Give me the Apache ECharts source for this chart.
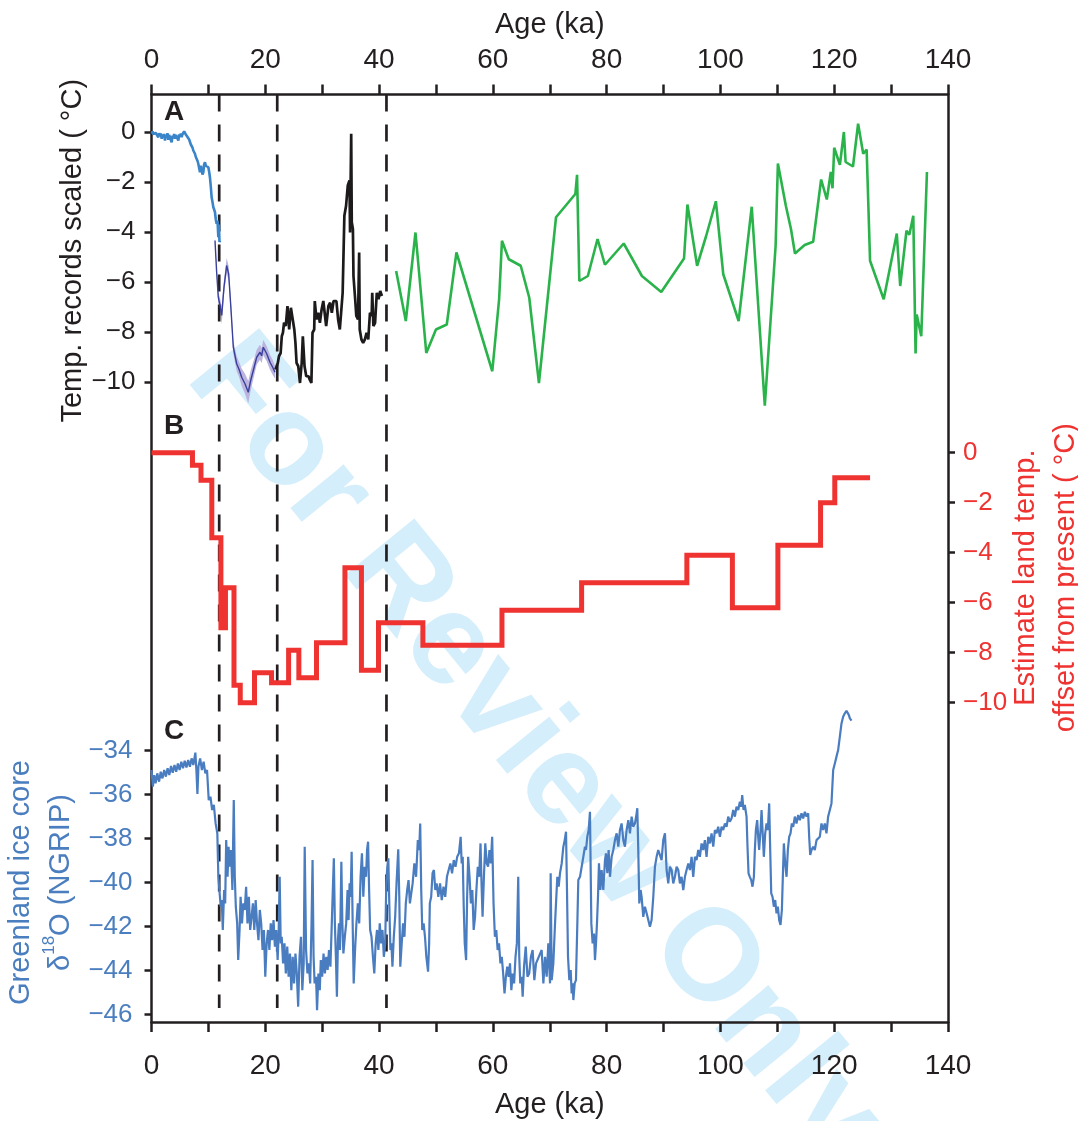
<!DOCTYPE html>
<html>
<head>
<meta charset="utf-8">
<title>Temperature records, land temperature estimate and NGRIP d18O</title>
<script src="https://cdn.jsdelivr.net/npm/echarts@6.0.0/dist/echarts.min.js"></script>
<style>
  html, body { margin: 0; padding: 0; background: #fff; }
  #chart { width: 1078px; height: 1121px; }
</style>
</head>
<body>
<div id="chart"></div>
<script>
// ---- axes ----
const ageTicks = [0, 10, 20, 30, 40, 50, 60, 70, 80, 90, 100, 110, 120, 130, 140];
const ageLabels = [0, 20, 40, 60, 80, 100, 120, 140];
const tempTicks = [0, -2, -4, -6, -8, -10];
const landTicks = [0, -2, -4, -6, -8, -10];
const d18OTicks = [-34, -36, -38, -40, -42, -44, -46];
const boundaryAges = [11.9, 22.1, 41.3];

// ---- panel A: scaled temperature records [age ka, degC] ----
const holoceneBlue = [
  [0.03,-0.07],[0.18,0.02],[0.32,-0.08],[0.47,-0.02],[0.62,-0.14],[0.76,-0.04],[0.91,-0.12],[1.05,0.0],
  [1.2,-0.21],[1.35,-0.05],[1.49,-0.15],[1.64,-0.06],[1.79,-0.27],[1.93,-0.1],[2.08,-0.2],[2.23,-0.08],
  [2.37,-0.34],[2.52,-0.12],[2.67,-0.22],[2.81,-0.05],[2.96,-0.31],[3.1,-0.12],[3.25,-0.18],[3.4,-0.06],
  [3.54,-0.41],[3.69,-0.15],[3.84,-0.24],[3.98,-0.08],[4.13,-0.27],[4.28,-0.12],[4.42,-0.07],[4.57,-0.2],
  [4.72,-0.34],[4.86,-0.1],[5.01,-0.2],[5.16,-0.06],[5.3,-0.21],[5.45,-0.09],[5.59,-0.05],[5.74,0.02],
  [5.89,0.0],[6.03,-0.1],[6.18,-0.14],[6.33,-0.2],[6.47,-0.21],[6.62,-0.3],[6.77,-0.37],[6.91,-0.5],
  [7.06,-0.54],[7.2,-0.62],[7.35,-0.74],[7.5,-0.8],[7.64,-0.87],[7.79,-1.0],[7.94,-1.07],[8.08,-1.15],
  [8.23,-1.27],[8.38,-1.45],[8.52,-1.61],[8.67,-1.35],[8.82,-1.41],[8.96,-1.7],[9.11,-1.61],[9.25,-1.3],
  [9.4,-1.21],[9.55,-1.35],[9.7,-1.27],[9.84,-1.3],[9.99,-1.41],[10.14,-1.6],[10.28,-1.83],[10.43,-2.2],
  [10.57,-2.61],[10.72,-2.8],[10.87,-3.01],[11.01,-3.1],[11.16,-3.21],[11.3,-3.5],[11.45,-3.67],[11.6,-3.54],
  [11.75,-4.21],[11.85,-3.7],[11.95,-4.4],[12.04,-4.34]
];
// [age, degC, half width of the uncertainty band]
const deglacialPurple = [
  [11.16,-4.34,0.1],[11.45,-5.6,0.15],[11.74,-6.61,0.2],[12.05,-6.95,0.3],[12.34,-7.34,0.35],
  [12.74,-6.21,0.3],[13.21,-5.34,0.3],[13.56,-5.67,0.3],[13.91,-6.87,0.25],[14.38,-8.61,0.25],
  [14.97,-9.27,0.3],[15.4,-9.5,0.3],[15.85,-9.81,0.35],[16.43,-10.07,0.4],[17.01,-10.41,0.45],
  [17.43,-9.94,0.4],[17.89,-9.54,0.35],[18.49,-9.01,0.3],[19.07,-8.81,0.3],[19.35,-8.95,0.3],
  [19.65,-8.61,0.3],[20.25,-8.87,0.3],[20.83,-9.21,0.3],[21.3,-9.41,0.3],[21.7,-9.61,0.25]
];
const glacialBlack = [
  [21.8,-9.5],[22.2,-9.24],[22.4,-8.97],[22.7,-8.84],[22.9,-8.17],[23.1,-8.03],[23.3,-7.63],[23.6,-7.76],
  [23.9,-6.96],[24.2,-7.9],[24.5,-7.03],[24.8,-6.96],[25.1,-7.9],[25.3,-8.43],[25.5,-9.24],[25.8,-9.37],
  [26.1,-10.04],[26.4,-9.24],[26.6,-8.17],[26.9,-9.37],[27.2,-9.77],[27.6,-9.77],[27.8,-9.9],[28.1,-10.04],
  [28.3,-8.03],[28.6,-7.9],[28.7,-6.76],[29.0,-7.5],[29.3,-7.23],[29.6,-7.63],[29.9,-7.1],[30.2,-6.76],
  [30.5,-7.36],[30.7,-7.76],[31.1,-6.96],[31.4,-6.83],[31.7,-7.23],[32.0,-6.76],[32.5,-6.76],[32.8,-7.5],
  [33.1,-7.9],[33.6,-6.43],[33.9,-3.35],[34.2,-2.95],[34.5,-2.14],[34.8,-1.94],[34.9,-4.02],[35.1,-0.07],
  [35.2,-3.61],[35.4,-3.88],[35.5,-5.76],[35.8,-6.69],[36.0,-7.36],[36.3,-7.5],[36.5,-4.82],[36.6,-7.9],
  [36.9,-8.3],[37.2,-8.43],[37.5,-8.3],[37.8,-8.03],[38.1,-8.3],[38.4,-7.23],[38.7,-7.36],[38.8,-6.43],
  [39.0,-7.76],[39.3,-7.63],[39.6,-6.43],[39.9,-6.69],[40.2,-6.36],[40.5,-6.56]
];
const longGreen = [
  [43.0,-5.56],[44.7,-7.56],[46.4,-4.02],[48.3,-8.84],[50.0,-7.9],[51.9,-7.7],[53.6,-4.82],[59.9,-9.57],
  [61.1,-6.69],[61.6,-4.35],[62.8,-5.09],[64.9,-5.35],[66.4,-6.63],[68.1,-10.04],[71.1,-3.41],[74.5,-2.48],
  [74.8,-1.71],[75.2,-5.96],[76.7,-5.76],[78.4,-4.28],[79.7,-5.31],[83.0,-4.46],[86.2,-5.76],[89.6,-6.4],
  [93.6,-5.06],[94.2,-2.9],[95.9,-5.35],[97.5,-4.15],[99.2,-2.77],[100.5,-5.69],[103.2,-7.56],[105.5,-2.99],
  [107.8,-10.95],[109.7,-4.55],[110.1,-1.26],[111.5,-2.95],[112.4,-3.88],[113.1,-4.86],[114.8,-4.52],[116.3,-4.39],
  [117.7,-1.9],[118.7,-2.7],[119.4,-1.6],[119.7,-2.25],[120.0,-0.63],[121.0,-1.31],[121.7,0.0],[122.0,-1.2],
  [123.3,-1.38],[124.2,0.33],[124.5,0.29],[125.1,-0.87],[125.7,-0.7],[126.3,-5.15],[128.7,-6.69],[131.0,-4.06],
  [131.6,-6.16],[132.7,-3.95],[133.2,-4.11],[133.9,-3.35],[134.3,-8.86],[134.5,-7.3],[135.3,-8.17],[136.3,-1.6]
];

// ---- panel B: land temperature offset, step starts [age ka, degC] ----
const landSteps = [
  [0,0],[7.2,-0.5],[8.7,-1.1],[10.6,-3.4],[12.2,-7.0],[13.0,-5.4],[14.5,-9.3],[15.6,-10.0],[18.1,-8.8],
  [21.1,-9.2],[24.1,-7.9],[25.9,-9.0],[29.0,-7.6],[34.0,-4.6],[36.9,-8.7],[39.9,-6.8],[47.7,-7.7],
  [61.6,-6.3],[75.6,-5.2],[94.1,-4.1],[102.1,-6.2],[110.1,-3.7],[117.6,-2.0],[120.1,-1.0],[126.3,-1.0]
];

// ---- panel C: NGRIP d18O [age ka, permil] ----
const ngrip = [
  [0,-34.88],[0.24,-35.64],[0.48,-35.11],[0.72,-35.49],[1.02,-35.03],[1.33,-35.41],[1.63,-34.96],[1.93,-35.26],
  [2.23,-34.88],[2.53,-35.18],[2.83,-34.8],[3.13,-35.11],[3.43,-34.7],[3.73,-35.0],[4.04,-34.65],[4.34,-34.96],
  [4.64,-34.58],[4.94,-34.88],[5.24,-34.5],[5.54,-34.8],[5.84,-34.46],[6.14,-34.76],[6.45,-34.42],[6.75,-34.73],
  [7.05,-34.35],[7.35,-34.65],[7.71,-34.09],[7.89,-34.88],[8.07,-35.97],[8.25,-34.73],[8.55,-34.35],[8.86,-34.88],
  [9.16,-34.5],[9.46,-35.03],[9.76,-34.88],
  [10.06,-36.25],[10.36,-36.09],[10.66,-36.7],[10.96,-36.47],[11.27,-37.31],[11.57,-37.76],[11.75,-39.74],[11.93,-40.34],
  [12.17,-41.1],[12.35,-40.8],[12.53,-42.16],[12.77,-40.34],[12.95,-40.95],[13.13,-38.07],[13.37,-39.74],[13.55,-38.37],
  [13.73,-39.28],[13.98,-38.52],[14.22,-40.34],[14.46,-36.25],[14.64,-39.74],[14.82,-41.1],[15.06,-41.86],[15.24,-43.53],
  [15.48,-42.16],[15.66,-40.65],[15.9,-41.86],[16.14,-40.95],[16.39,-41.25],[16.63,-40.19],[16.87,-41.86],[17.11,-40.65],
  [17.35,-42.16],[17.59,-41.56],[17.83,-40.95],[18.07,-42.16],[18.31,-40.8],[18.55,-41.86],[18.8,-42.62],[19.04,-41.25],
  [19.28,-41.86],[19.52,-43.07],[19.76,-42.16],[20.0,-44.29],[20.24,-42.77],[20.48,-42.16],[20.72,-43.07],[20.96,-41.86],
  [21.2,-42.62],[21.45,-41.71],[21.69,-42.92],[21.93,-42.16],[22.17,-43.53],[22.35,-42.32],[22.53,-39.74],[22.71,-42.77],
  [22.89,-42.47],[23.13,-43.68],[23.37,-42.77],[23.61,-44.14],[23.86,-42.92],[24.1,-44.29],[24.34,-43.23],[24.58,-44.9],
  [24.82,-43.38],[25.06,-44.59],[25.3,-43.23],[25.54,-44.14],[25.78,-45.65],[26.02,-43.38],[26.27,-42.47],[26.51,-44.9],
  [26.75,-43.68],[26.93,-38.37],[27.17,-43.07],[27.41,-44.14],[27.65,-43.68],[27.89,-44.59],[28.13,-41.86],[28.31,-38.98],
  [28.49,-43.38],[28.67,-44.59],[28.92,-44.29],[29.1,-45.81],[29.34,-44.14],[29.58,-44.9],[29.76,-43.53],[30.0,-44.29],
  [30.24,-43.23],[30.48,-44.14],[30.72,-43.38],[30.96,-43.98],[31.2,-43.07],[31.45,-43.83],[31.69,-41.86],[31.87,-40.34],
  [32.05,-38.9],[32.23,-41.86],[32.41,-43.38],[32.59,-45.2],[32.77,-42.62],[32.95,-41.86],[33.13,-43.07],[33.37,-39.05],
  [33.55,-41.86],[33.73,-43.23],[33.98,-42.47],[34.22,-41.86],[34.46,-40.34],[34.64,-41.71],[34.82,-40.04],[35.0,-40.65],
  [35.18,-38.6],
  [35.36,-41.86],[35.54,-44.59],[35.78,-43.07],[36.02,-41.86],[36.27,-40.95],[36.51,-41.86],[36.75,-39.74],[36.99,-38.67],
  [37.23,-40.65],[37.47,-39.28],[37.71,-39.74],[37.89,-38.52],[38.07,-38.14],[38.25,-40.34],[38.43,-42.16],[38.67,-42.47],
  [38.92,-43.38],[39.16,-44.14],[39.4,-42.77],[39.64,-42.16],[39.88,-43.07],[40.12,-41.86],[40.36,-42.77],[40.6,-42.16],
  [40.84,-43.38],[41.08,-42.77],[41.27,-40.04],[41.45,-39.28],[41.63,-38.9],[41.81,-41.1],[41.99,-43.07],[42.17,-42.77],
  [42.35,-43.83],[42.59,-42.47],[42.83,-41.56],[43.07,-40.04],[43.37,-38.49],[43.55,-40.65],[43.73,-43.83],[43.98,-42.77],
  [44.22,-41.86],[44.46,-42.47],[44.7,-40.95],[44.94,-40.34],[45.18,-39.89],[45.42,-40.95],[45.66,-40.49],[45.9,-40.04],
  [46.2,-39.13],[46.51,-39.74],[46.81,-38.07],[47.05,-38.52],[47.23,-37.31],[47.41,-40.34],[47.59,-42.16],[47.83,-41.86],
  [48.07,-42.47],[48.31,-43.38],[48.61,-44.06],[48.8,-42.77],[48.92,-40.95],
  [49.16,-40.65],[49.4,-39.58],[49.64,-39.43],[49.88,-40.34],[50.12,-40.04],[50.42,-40.65],[50.72,-40.04],[51.02,-40.8],
  [51.33,-40.19],[51.63,-40.65],[51.93,-39.74],[52.23,-39.43],[52.53,-39.13],[52.83,-39.58],[53.13,-38.98],[53.43,-39.28],
  [53.73,-38.83],[54.04,-38.67],[54.34,-37.92],[54.52,-39.13],[54.7,-38.83],[54.88,-41.1],[55.06,-42.77],[55.3,-43.53],
  [55.48,-40.65],[55.66,-38.83],[55.9,-39.74],[56.14,-40.95],[56.39,-40.34],[56.63,-42.16],[56.87,-41.56],[57.11,-40.34],
  [57.35,-39.28],[57.59,-39.74],[57.83,-38.22],[58.01,-40.04],[58.19,-41.56],[58.43,-39.74],[58.67,-38.22],[58.92,-39.13],
  [59.16,-39.28],[59.4,-38.52],[59.64,-39.13],[59.88,-37.92],[60.12,-40.95],[60.36,-42.47],[60.6,-42.16],[60.84,-43.07],
  [61.08,-42.77],[61.33,-43.68],[61.57,-43.38],[61.81,-44.14],[62.05,-45.05],[62.29,-44.29],[62.53,-43.83],[62.77,-44.29],
  [63.01,-43.68],[63.25,-44.9],[63.49,-44.14],[63.73,-44.59],[63.98,-43.38],[64.22,-42.77],[64.46,-39.74],[64.64,-43.38],
  [64.82,-44.59],[65.06,-44.29],[65.24,-45.2],[65.48,-43.83],[65.78,-42.92],[66.08,-44.29],[66.39,-44.14],[66.69,-43.38],
  [66.99,-43.07],[67.29,-44.44],[67.59,-43.68],
  [68.58,-43.07],[68.88,-44.59],[69.17,-43.38],[69.46,-44.29],[69.75,-42.77],[70.05,-44.59],[70.16,-39.58],[70.34,-44.44],
  [70.63,-43.68],[70.93,-41.86],[71.1,-40.95],[71.33,-39.74],[71.57,-40.19],[71.8,-39.58],[72.1,-39.13],[72.39,-38.37],
  [72.63,-38.07],[72.86,-37.69],[73.03,-40.34],[73.21,-43.38],[73.44,-44.44],[73.68,-43.98],[73.85,-45.05],[74.03,-44.59],
  [74.15,-45.35],[74.38,-44.59],[74.61,-44.44],[74.85,-41.86],[75.02,-39.89],[75.32,-39.74],[75.61,-39.28],[75.9,-38.83],
  [76.19,-38.37],[76.37,-38.52],[76.6,-37.92],[76.84,-37.61],[77.07,-36.78],[77.31,-41.86],[77.54,-42.77],[77.78,-42.32],
  [77.95,-43.53],[78.13,-42.77],[78.3,-41.86],[78.48,-40.65],[78.65,-39.13],[78.89,-40.34],[79.12,-39.43],[79.41,-40.34],
  [79.71,-38.98],[79.88,-38.67],[80.12,-39.58],[80.35,-38.52],[80.59,-39.74],[80.88,-38.83],[81.17,-38.52],[81.46,-38.07],
  [81.76,-37.76],[82.05,-38.37],[82.34,-37.61],[82.63,-37.31],[82.93,-38.07],[83.22,-38.37],[83.51,-37.61],[83.81,-37.16],
  [84.1,-37.76],[84.39,-37.0],[84.68,-37.46],[84.98,-37.31],[85.27,-36.85],[85.39,-36.62],[85.56,-38.52],[85.74,-40.95],
  [85.97,-40.34],[86.15,-40.65],[86.44,-41.56],[86.73,-41.1],[87.03,-41.4],[87.32,-41.71],[87.61,-42.01],[87.9,-41.71],
  [88.2,-40.65],[88.49,-39.28],[88.78,-38.83],[89.07,-38.52],[89.37,-38.52],[89.66,-38.98],[89.95,-38.07],[90.25,-37.76],
  [90.54,-39.43],[90.83,-40.04],[91.12,-39.28],[91.42,-39.43],[91.71,-40.04],[92.0,-39.74],[92.3,-39.28],[92.59,-39.43],
  [92.88,-40.04],[93.17,-39.74],[93.47,-40.34],[93.76,-39.74],[94.05,-39.43],[94.35,-39.13],[94.64,-39.43],[94.93,-38.83],
  [95.22,-39.74],[95.52,-38.83],[95.81,-38.98],[96.1,-38.52],[96.39,-38.83],[96.69,-38.22],[96.98,-38.52],[97.27,-38.07],
  [97.56,-38.83],[97.86,-37.92],[98.15,-38.22],[98.44,-37.76],[98.74,-38.37],[99.03,-37.61],[99.32,-37.76],[99.61,-37.46],
  [99.91,-37.92],[100.2,-37.46],[100.49,-37.61],[100.79,-37.31],[101.08,-37.46],[101.37,-37.0],[101.66,-37.23],[101.96,-37.08],
  [102.25,-36.7],[102.54,-37.0],[102.83,-36.55],[103.13,-36.7],[103.42,-36.32],[103.65,-36.55],[103.83,-36.02],[104.06,-36.7],
  [104.29,-36.47],[104.59,-37.0],[104.76,-38.37],[104.94,-39.58],[105.17,-39.74],[105.41,-39.89],[105.64,-40.19],[105.88,-39.74],
  [106.05,-38.52],[106.23,-37.61],[106.46,-37.16],[106.64,-37.92],[106.81,-38.52],[107.05,-37.61],[107.23,-36.7],[107.4,-37.61],
  [107.63,-38.83],[107.87,-37.76],[108.1,-37.31],[108.34,-37.61],[108.57,-36.4],[108.75,-38.52],[108.93,-40.49],[109.16,-40.65],
  [109.39,-41.1],[109.63,-40.8],[109.86,-41.4],[110.09,-41.1],[110.33,-41.71],[110.56,-41.93],[110.8,-41.25],[110.97,-39.74],
  [111.15,-38.22],[111.38,-39.13],[111.62,-39.74],[111.85,-38.52],[112.08,-37.92],[112.32,-37.76],[112.55,-37.31],[112.79,-37.46],
  [113.08,-37.0],[113.37,-37.31],[113.67,-36.93],[113.96,-37.16],[114.25,-36.85],[114.54,-37.08],[114.84,-36.78],[115.13,-37.0],
  [115.42,-36.85],[115.6,-37.92],[115.78,-38.75],[116.01,-38.52],[116.3,-38.37],[116.59,-38.52],[116.89,-38.07],[117.18,-38.14],
  [117.47,-37.92],[117.76,-37.31],[118.06,-37.61],[118.35,-37.31],[118.64,-37.76],[118.93,-37.0],[119.23,-36.7],[119.52,-36.4],
  [119.82,-34.88],[120.11,-34.58],[120.4,-34.27],[120.69,-33.97],[120.99,-33.36],[121.28,-32.76],[121.57,-32.45],[121.87,-32.3],
  [122.16,-32.18],[122.34,-32.15],[122.58,-32.38],[122.75,-32.53],[123.04,-32.63]
];

// ---- layout (pixels) ----
const FONT = 'Liberation Sans, Arial, Helvetica, sans-serif';
const INK = '#231f20';
const frame = { left: 151.5, right: 130, top: 94.5, bottom: 99 };
function panelGrid(refPx, refVal, unitPx, min, max) {
  return {
    left: frame.left, right: frame.right, outerBoundsMode: 'none',
    top: refPx - (max - refVal) * unitPx, height: (max - min) * unitPx
  };
}
const rangeA = { min: -11, max: 1.5 };
const rangeB = { min: -11.5, max: 1.5 };
const rangeC = { min: -48.5, max: -31.5 };
const minus = v => String(v).replace('-', '\u2212');

const chart = echarts.init(document.getElementById('chart'), null, { renderer: 'canvas' });

const hiddenX = idx => ({ type: 'value', gridIndex: idx, min: 0, max: 140, show: false });

function panelY(gridIndex, range, ticks, color, position, name, nameGap, margin, nameStyle) {
  return {
    type: 'value', gridIndex, position, min: range.min, max: range.max,
    axisLine: { show: false, onZero: false },
    axisTick: { show: true, customValues: ticks, length: 7, lineStyle: { color: INK, width: 2.5 } },
    axisLabel: { customValues: ticks, formatter: minus, color, fontSize: 26, fontFamily: FONT, margin },
    splitLine: { show: false },
    name, nameLocation: 'middle', nameRotate: 90, nameGap, nameMoveOverlap: false,
    nameTextStyle: nameStyle
  };
}

const option = {
  animation: false,
  backgroundColor: '#fff',
  graphic: [
    {
      type: 'text', x: 534, y: 750, rotation: -50.8 * Math.PI / 180, z: -10, silent: true,
      style: { text: 'For Review Only', fontSize: 130, fontWeight: 'bold', fontFamily: FONT, fill: '#d4eefb', align: 'center', verticalAlign: 'middle' }
    },
    { type: 'text', x: 174, y: 112, style: { text: 'A', fontSize: 28, fontWeight: 'bold', fontFamily: FONT, fill: INK, align: 'center', verticalAlign: 'middle' } },
    { type: 'text', x: 174, y: 426, style: { text: 'B', fontSize: 28, fontWeight: 'bold', fontFamily: FONT, fill: INK, align: 'center', verticalAlign: 'middle' } },
    { type: 'text', x: 174, y: 731, style: { text: 'C', fontSize: 28, fontWeight: 'bold', fontFamily: FONT, fill: INK, align: 'center', verticalAlign: 'middle' } }
  ],
  grid: [
    { left: frame.left, right: frame.right, top: frame.top, bottom: frame.bottom, outerBoundsMode: 'none' },
    panelGrid(132, 0, 25, rangeA.min, rangeA.max),
    panelGrid(452.7, 0, 25, rangeB.min, rangeB.max),
    panelGrid(750.7, -34, 21.97, rangeC.min, rangeC.max)
  ],
  xAxis: [
    {
      type: 'value', gridIndex: 0, position: 'top', min: 0, max: 140, interval: 10,
      axisLine: { onZero: false, lineStyle: { color: INK, width: 2.5 } },
      axisTick: { customValues: ageTicks, length: 10, lineStyle: { color: INK, width: 2.5 } },
      axisLabel: { customValues: ageLabels, color: INK, fontSize: 28, fontFamily: FONT, margin: 20 },
      splitLine: { show: false },
      name: 'Age (ka)', nameLocation: 'middle', nameGap: 55, nameMoveOverlap: false,
      nameTextStyle: { color: INK, fontSize: 29, fontFamily: FONT }
    },
    {
      type: 'value', gridIndex: 0, position: 'bottom', min: 0, max: 140, interval: 10,
      axisLine: { onZero: false, lineStyle: { color: INK, width: 2.5 } },
      axisTick: { customValues: ageTicks, length: 10, lineStyle: { color: INK, width: 2.5 } },
      axisLabel: { customValues: ageLabels, color: INK, fontSize: 28, fontFamily: FONT, margin: 30 },
      splitLine: { show: false },
      name: 'Age (ka)', nameLocation: 'middle', nameGap: 68, nameMoveOverlap: false,
      nameTextStyle: { color: INK, fontSize: 29, fontFamily: FONT }
    },
    hiddenX(1), hiddenX(2), hiddenX(3)
  ],
  yAxis: [
    {
      type: 'value', gridIndex: 0, position: 'left', min: 0, max: 1,
      axisLine: { show: true, onZero: false, lineStyle: { color: INK, width: 2.5 } },
      axisTick: { show: false }, axisLabel: { show: false }, splitLine: { show: false }
    },
    {
      type: 'value', gridIndex: 0, position: 'right', min: 0, max: 1,
      axisLine: { show: true, onZero: false, lineStyle: { color: INK, width: 2.5 } },
      axisTick: { show: false }, axisLabel: { show: false }, splitLine: { show: false }
    },
    panelY(1, rangeA, tempTicks, INK, 'left', 'Temp. records scaled ( \u00B0C)', 64, 16,
      { color: INK, fontSize: 29, fontFamily: FONT }),
    panelY(2, rangeB, landTicks, '#ee3331', 'right', 'Estimate land temp.\noffset from present ( \u00B0C)', 58, 15,
      { color: '#ee3331', fontSize: 29, fontFamily: FONT, lineHeight: 40 }),
    panelY(3, rangeC, d18OTicks, '#4a7ebf', 'left', 'Greenland ice core\n\u03B4{sup|18}O (NGRIP)', 71, 19, {
      color: '#4a7ebf', fontSize: 29, fontFamily: FONT, lineHeight: 40,
      rich: { sup: { fontSize: 17, lineHeight: 26, verticalAlign: 'top', color: '#4a7ebf', fontFamily: FONT } }
    })
  ],
  series: [
    ...boundaryAges.map(age => ({
      type: 'line', xAxisIndex: 0, yAxisIndex: 0, symbol: 'none', silent: true, z: 1,
      data: [[age, 1], [age, 0.015]],
      lineStyle: { color: INK, width: 2.7, type: [17, 13] }
    })),
    {
      // uncertainty envelope of the deglacial record
      type: 'custom', xAxisIndex: 2, yAxisIndex: 2, silent: true, z: 1,
      data: deglacialPurple,
      encode: { x: 0, y: 1 },
      renderItem: (params, api) => {
        if (params.dataIndex !== 0) return null;
        const upper = deglacialPurple.map(r => api.coord([r[0], r[1] + r[2]]));
        const lower = deglacialPurple.map(r => api.coord([r[0], r[1] - r[2]])).reverse();
        return { type: 'polygon', shape: { points: upper.concat(lower) }, style: { fill: '#bab4de' } };
      }
    },
    {
      name: 'deglacial', type: 'line', xAxisIndex: 2, yAxisIndex: 2, symbol: 'none',
      data: deglacialPurple.map(r => [r[0], r[1]]),
      lineStyle: { color: '#3a3f9c', width: 1.4 }
    },
    {
      name: 'holocene', type: 'line', xAxisIndex: 2, yAxisIndex: 2, symbol: 'none',
      data: holoceneBlue, lineStyle: { color: '#3a85c9', width: 2.6 }
    },
    {
      name: 'glacial', type: 'line', xAxisIndex: 2, yAxisIndex: 2, symbol: 'none',
      data: glacialBlack, lineStyle: { color: '#1c1a1b', width: 2.7 }
    },
    {
      name: 'long record', type: 'line', xAxisIndex: 2, yAxisIndex: 2, symbol: 'none',
      data: longGreen, lineStyle: { color: '#2bb34b', width: 2.6 }
    },
    {
      name: 'land', type: 'line', step: 'end', xAxisIndex: 3, yAxisIndex: 3, symbol: 'none',
      data: landSteps, lineStyle: { color: '#ee3331', width: 5, join: 'miter' }
    },
    {
      name: 'NGRIP', type: 'line', xAxisIndex: 4, yAxisIndex: 4, symbol: 'none',
      data: ngrip, lineStyle: { color: '#4a7cc0', width: 2.2 }
    }
  ]
};

chart.setOption(option);
</script>
</body>
</html>
